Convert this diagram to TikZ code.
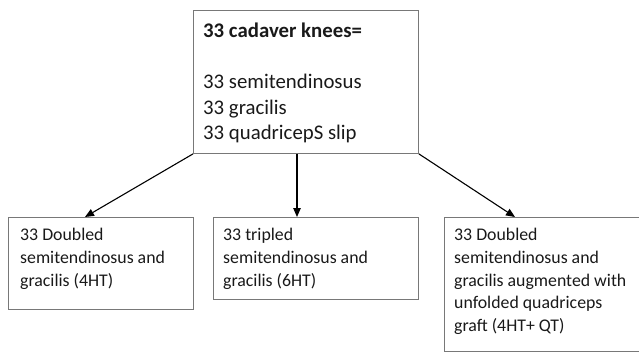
\documentclass[tikz,border=0pt]{standalone}
\usepackage{fontspec}
\setmainfont{Carlito}
\usetikzlibrary{arrows.meta}
\definecolor{boxline}{RGB}{120,120,120}
\definecolor{ink}{RGB}{25,25,25}
\begin{document}
\begin{tikzpicture}[x=1pt,y=-1pt,
 box/.style={draw=boxline, line width=0.9pt, anchor=north west, inner sep=0pt},
 lbl/.style={anchor=north west, align=left, inner sep=0pt, text=ink},
 big/.style={font=\fontsize{20.8}{25.5}\selectfont},
 small/.style={font=\fontsize{17.8}{22.8}\selectfont},
 arr/.style={-{Triangle[length=9pt,width=7.5pt]}, line width=1.1pt, draw=black}]
\clip (0,0) rectangle (639,354);
\node[box, minimum width=225pt, minimum height=143pt] (top) at (193,10) {};
\node[lbl,big] (toptext) at (203,23) {\textbf{33 cadaver knees=}\\[25.5pt]33 semitendinosus\\33 gracilis\\33 quadricepS slip};
\node[box, minimum width=185pt, minimum height=92pt] (b1) at (8,217) {};
\node[lbl,small] (t1) at (20,228) {33 Doubled\\semitendinosus and\\gracilis (4HT)};
\node[box, minimum width=205pt, minimum height=82pt] (b2) at (213,217) {};
\node[lbl,small] (t2) at (223,228) {33 tripled\\semitendinosus and\\gracilis (6HT)};
\node[box, minimum width=200pt, minimum height=134pt] (b3) at (444,217) {};
\node[lbl,small] (t3) at (454,228) {33 Doubled\\semitendinosus and\\gracilis augmented with\\unfolded quadriceps\\graft (4HT+ QT)};
\draw[arr] (top.south west) -- ([xshift=77pt]b1.north west);
\draw[arr] ([xshift=104pt]top.south west) -- ([xshift=84pt]b2.north west);
\draw[arr] (top.south east) -- ([xshift=71pt]b3.north west);
\end{tikzpicture}
\end{document}
